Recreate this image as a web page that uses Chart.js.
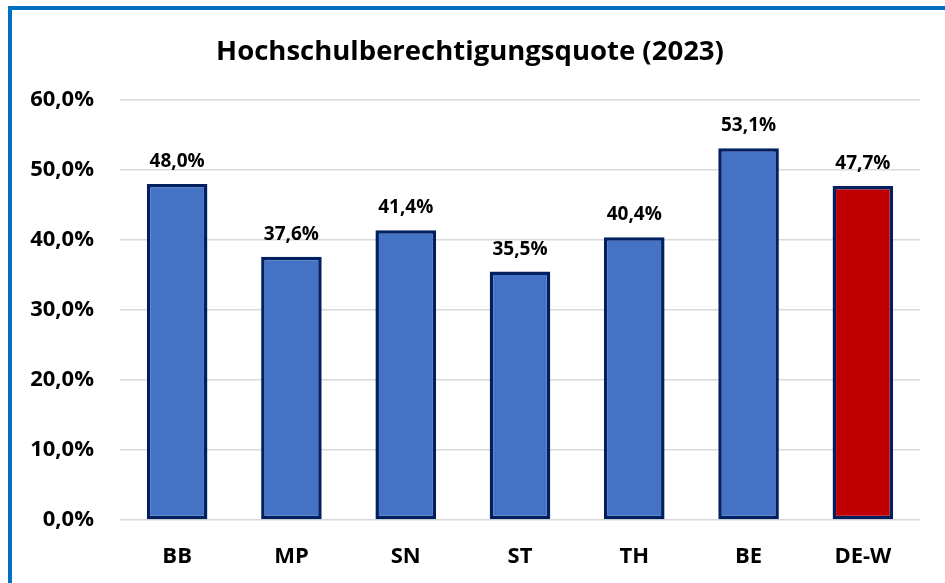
<!DOCTYPE html>
<html>
<head>
<meta charset="utf-8">
<script src="https://cdn.jsdelivr.net/npm/chart.js@4/dist/chart.umd.min.js"></script>
<style>
html,body{margin:0;padding:0;background:#fff;}
#wrap{width:945px;height:583px;position:relative;}
</style>
</head>
<body>
<div id="wrap"><canvas id="c" width="945" height="583"></canvas></div>
<script>
const categories = ["BB", "MP", "SN", "ST", "TH", "BE", "DE-W"];
const values = [48.0, 37.6, 41.4, 35.5, 40.4, 53.1, 47.7];
const tickValues = [0, 10, 20, 30, 40, 50, 60];
const barColors = ["#4472C4", "#4472C4", "#4472C4", "#4472C4", "#4472C4", "#4472C4", "#C00000"];
const titleText = "Hochschulberechtigungsquote (2023)";

const FONT = "'Open Sans', Lato, sans-serif";
const fmt = v => v.toFixed(1).replace('.', ',') + '%';

const framePlugin = {
  id: 'frame',
  beforeDraw(chart) {
    const ctx = chart.ctx;
    ctx.save();
    ctx.fillStyle = '#ffffff';
    ctx.fillRect(0, 0, chart.width, chart.height);
    ctx.fillStyle = '#0070C0';
    ctx.fillRect(8, 6, chart.width - 8, 4);
    ctx.fillRect(8, 6, 4, chart.height - 6);
    ctx.restore();
  }
};

const labelPlugin = {
  id: 'valueLabels',
  afterDatasetsDraw(chart) {
    const ctx = chart.ctx;
    const meta = chart.getDatasetMeta(0);
    ctx.save();
    ctx.font = "bold 19px " + FONT;
    ctx.fillStyle = '#000000';
    ctx.textAlign = 'center';
    ctx.textBaseline = 'alphabetic';
    meta.data.forEach((bar, i) => {
      ctx.fillText(fmt(values[i]), bar.x, bar.y - 17);
    });
    ctx.restore();
  }
};

new Chart(document.getElementById('c'), {
  type: 'bar',
  data: {
    labels: categories,
    datasets: [{
      data: values,
      backgroundColor: barColors,
      borderColor: '#002060',
      borderWidth: 3.5,
      borderSkipped: false,
      barPercentage: 0.53,
      categoryPercentage: 1.0
    }]
  },
  options: {
    responsive: false,
    animation: false,
    devicePixelRatio: 1,
    layout: { padding: { left: 20, right: 25, top: 0, bottom: 0 } },
    plugins: {
      legend: { display: false },
      tooltip: { enabled: false },
      title: {
        display: true,
        text: titleText,
        color: '#000000',
        font: { family: FONT, size: 27.5, weight: 'bold' },
        padding: { top: 36, bottom: 31 }
      }
    },
    scales: {
      x: {
        grid: { display: false, drawTicks: false },
        border: { display: false },
        ticks: {
          color: '#000000',
          font: { family: FONT, size: 22, weight: 'bold' },
          padding: 24,
          maxRotation: 0
        },
        afterFit(scale) { scale.height = 63; }
      },
      y: {
        min: 0,
        max: 60,
        afterBuildTicks(scale) { scale.ticks = tickValues.map(v => ({ value: v })); },
        grid: { color: '#D9D9D9', lineWidth: 1.5, drawTicks: false },
        border: { display: false },
        ticks: {
          color: '#000000',
          font: { family: FONT, size: 22, weight: 'bold' },
          padding: 26,
          callback: v => fmt(v)
        },
        afterFit(scale) { scale.width = 100; }
      }
    }
  },
  plugins: [framePlugin, labelPlugin]
});
</script>
</body>
</html>
